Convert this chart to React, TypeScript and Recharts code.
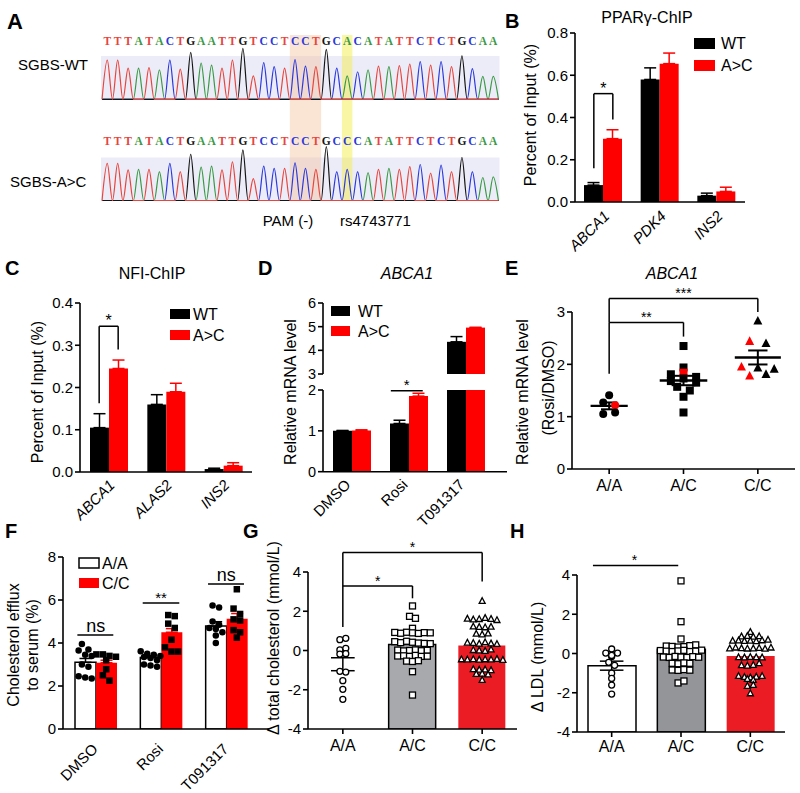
import React from 'react';
import {
  ComposedChart, Bar, Line, Scatter, XAxis, YAxis, ErrorBar,
  ReferenceLine, ReferenceDot, ReferenceArea, Cell,
} from 'recharts';

const FONT = "'Liberation Sans', Arial, Helvetica, sans-serif";
const SERIF = "'Liberation Serif', 'DejaVu Serif', serif";
const BLACK = '#000000';
const RED = '#ff0000';
const DEEP_RED = '#ec1c24';
const GRAY_G = '#a7a9ac';
const GRAY_H = '#939598';
const AXL = { stroke: BLACK, strokeWidth: 1.6 };

// ---------------- Panel A: Sanger traces ----------------
const WT_SEQ = 'TTTATACTGAATTGTCCTCCTGCACATATTCTCTGCAA';
const MUT_SEQ = 'TTTATACTGAATTGTCCTCCTGCCCATATTCTCTGCAA';
const WT_PEAKS = [0.77, 0.77, 0.61, 0.61, 0.62, 0.58, 0.77, 0.59, 0.92, 0.71, 0.67, 0.61, 0.77, 1.0, 0.46, 0.72, 0.64, 0.61, 0.78, 0.65, 0.64, 0.98, 0.61, 0.46, 0.54, 0.58, 0.65, 0.64, 0.66, 0.69, 0.74, 0.67, 0.74, 0.64, 0.85, 0.6, 0.45, 0.45];
const MUT_PEAKS = [0.69, 0.69, 0.57, 0.58, 0.58, 0.54, 0.69, 0.54, 0.86, 0.62, 0.64, 0.57, 0.72, 0.94, 0.41, 0.64, 0.6, 0.6, 0.7, 0.6, 0.58, 1.0, 0.54, 0.58, 0.54, 0.52, 0.58, 0.6, 0.58, 0.63, 0.67, 0.51, 0.66, 0.54, 0.8, 0.54, 0.43, 0.44];
const PAM_BASES = [19, 21];
const SNP_BASE = 24;
const BASE_COLORS: Record<string, string> = { A: '#3a9a44', C: '#2b39dd', G: '#151515', T: '#e8453c' };

// ---------------- Panel B ----------------
const B_GENES = ['ABCA1', 'PDK4', 'INS2'];
const B_WT = [0.08, 0.58, 0.03];
const B_WT_ERR = [0.012, 0.055, 0.012];
const B_AC = [0.3, 0.655, 0.05];
const B_AC_ERR = [0.042, 0.05, 0.02];

// ---------------- Panel C ----------------
const C_GENES = ['ABCA1', 'ALAS2', 'INS2'];
const C_WT = [0.105, 0.16, 0.007];
const C_WT_ERR = [0.033, 0.023, 0.002];
const C_AC = [0.245, 0.19, 0.015];
const C_AC_ERR = [0.02, 0.02, 0.007];

// ---------------- Panel D ----------------
const D_COND = ['DMSO', 'Rosi', 'T091317'];
const D_WT = [1.0, 1.18, 4.36];
const D_WT_ERR = [0.01, 0.08, 0.22];
const D_AC = [1.01, 1.85, 4.96];
const D_AC_ERR = [0.015, 0.07, 0.01];

// ---------------- Panel E ----------------
const E_GROUPS = ['A/A', 'A/C', 'C/C'];
const E_AA = [1.41, 1.27, 1.22, 1.05, 1.08];
const E_AC = [2.35, 1.94, 1.81, 1.84, 1.68, 1.76, 1.73, 1.65, 1.57, 1.5, 1.38, 1.08];
const E_CC = [2.83, 2.44, 2.4, 1.95, 1.93, 1.91, 1.78, 1.81];
const E_AA_RED = [2];
const E_AC_RED = [3];
const E_CC_RED = [1, 3, 6];

// ---------------- Panel F ----------------
const F_COND = ['DMSO', 'Rosi', 'T091317'];
const F_AA = [3.1, 3.32, 4.79];
const F_AA_ERR = [0.18, 0.08, 0.2];
const F_CC = [3.08, 4.5, 5.13];
const F_CC_ERR = [0.12, 0.17, 0.24];
const F_AA_PTS = [
  [3.95, 3.7, 3.65, 3.45, 3.4, 3.0, 2.9, 2.45, 2.4, 2.35],
  [3.62, 3.5, 3.45, 3.4, 3.35, 3.3, 3.2, 3.0, 2.95, 2.9],
  [5.75, 5.65, 5.0, 4.85, 4.7, 4.65, 4.5, 4.35, 4.0],
];
const F_CC_PTS = [
  [3.47, 3.47, 3.4, 3.36, 3.2, 2.78, 2.5, 2.25],
  [5.3, 5.25, 4.9, 4.7, 4.15, 3.8, 3.6, 3.6],
  [6.5, 5.6, 5.35, 5.1, 5.05, 4.6, 4.5, 4.25],
];

// ---------------- Panel G ----------------
const G_GROUPS = ['A/A', 'A/C', 'C/C'];
const G_BAR: (number | null)[] = [null, 0.3, 0.25];
const G_AA_MEAN = -0.7;
const G_AA_SEM = 0.33;
const G_AA_PTS = [0.55, 0.62, 0.03, 0.11, -0.18, -0.16, -1.06, -1.1, -1.54, -1.98, -2.49];
const G_AC_PTS = [2.27, 1.74, 1.64, 1.13, 0.92, 0.88, 0.93, 0.9, 0.87, 0.91, 0.9, 0.45, 0.4, 0.47, 0.42, 0.38, 0.36, 0.35, 0.02, -0.02, 0.0, 0.03, -0.01, 0.01, -0.28, -0.27, -0.3, -0.25, -0.3, -0.29, -0.54, -0.56, -0.52, -1.08, -2.27];
const G_CC_PTS = [2.52, 1.62, 1.58, 1.6, 1.66, 1.61, 1.55, 1.22, 1.2, 1.18, 1.21, 0.85, 0.82, 0.87, 0.4, 0.38, 0.35, 0.42, 0.36, 0.33, 0.02, 0.0, -0.02, 0.05, -0.45, -0.46, -0.44, -0.47, -0.45, -0.46, -0.43, -0.48, -0.95, -0.98, -0.97, -1.0, -1.2, -1.18, -1.22, -1.5];

// ---------------- Panel H ----------------
const H_GROUPS = ['A/A', 'A/C', 'C/C'];
const H_BAR = [-0.62, 0.22, -0.13];
const H_AA_SEM = 0.23;
const H_AA_PTS = [0.23, 0.02, -0.15, -0.1, 0.02, -0.45, -0.6, -1.0, -1.27, -1.61, -2.07];
const H_AC_PTS = [3.7, 1.62, 0.74, 0.38, 0.36, 0.33, 0.35, 0.4, 0.44, 0.15, 0.12, 0.1, 0.13, 0.16, 0.1, 0.12, 0.17, -0.18, -0.2, -0.15, -0.18, -0.2, -0.16, -0.19, -0.5, -0.52, -0.48, -0.5, -0.84, -0.86, -0.82, -0.85, -1.5, -1.4];
const H_CC_PTS = [1.1, 0.87, 0.89, 0.85, 0.88, 0.65, 0.66, 0.64, 0.65, 0.63, 0.67, 0.7, 0.26, 0.3, 0.27, 0.25, 0.26, 0.28, 0.24, 0.3, -0.19, -0.2, -0.18, -0.19, -0.2, -0.6, -0.62, -0.58, -0.5, -1.15, -1.2, -1.22, -1.18, -1.15, -1.3, -1.35, -1.65, -1.6, -2.03];

// ---------------- helpers ----------------
function mean(a: number[]) { return a.reduce((s, v) => s + v, 0) / a.length; }
function sem(a: number[]) {
  const m = mean(a);
  const v = a.reduce((s, x) => s + (x - m) ** 2, 0) / (a.length - 1);
  return Math.sqrt(v / a.length);
}

// beeswarm-like layout: points in the same value row are spread horizontally
function swarm(vals: number[], rowH: number, step: number): number[] {
  const order = vals.map((_, i) => i).sort((a, b) => vals[b] - vals[a]);
  const off = vals.map(() => 0);
  let row: number[] = [];
  let top = 0;
  const flush = () => {
    const r = [...row].sort((a, b) => a - b);
    r.forEach((id, k) => { off[id] = (k - (r.length - 1) / 2) * step; });
  };
  order.forEach((i) => {
    if (row.length && top - vals[i] > rowH) { flush(); row = []; }
    if (!row.length) top = vals[i];
    row.push(i);
  });
  if (row.length) flush();
  return off;
}
function pts(vals: number[], center: number, rowH: number, step: number, red: number[] = []) {
  const off = swarm(vals, rowH, step);
  return vals.map((v, i) => ({ x: center + off[i], y: v, red: red.includes(i) }));
}

type Kind = 'circle' | 'square' | 'triangle';
function marker(kind: Kind, size: number, fill: string, stroke: string, sw: number) {
  return (p: any) => {
    const { cx, cy, payload } = p;
    if (cx == null || cy == null) return <g />;
    const f = payload && payload.red ? RED : fill;
    const s = payload && payload.red ? RED : stroke;
    const h = size / 2;
    if (kind === 'circle') return <circle cx={cx} cy={cy} r={h} fill={f} stroke={s} strokeWidth={sw} />;
    if (kind === 'square') return <rect x={cx - h} y={cy - h} width={size} height={size} fill={f} stroke={s} strokeWidth={sw} />;
    return <polygon points={`${cx},${cy - h * 1.1} ${cx + h},${cy + h * 0.8} ${cx - h},${cy + h * 0.8}`} fill={f} stroke={s} strokeWidth={sw} />;
  };
}

function seg(x1: number, y1: number, x2: number, y2: number, key: string, stroke = BLACK, w = 1.5) {
  return (
    <ReferenceLine key={key} xAxisId="n" segment={[{ x: x1, y: y1 }, { x: x2, y: y2 }]}
      stroke={stroke} strokeWidth={w} ifOverflow="visible" />
  );
}
function bracket(xl: number, xr: number, yl: number, yt: number, yr: number, key: string) {
  return [
    seg(xl, yl, xl, yt, key + 'l'),
    seg(xl, yt, xr, yt, key + 't'),
    seg(xr, yt, xr, yr, key + 'r'),
  ];
}
function txt(x: number, y: number, s: string, key: string, size = 15, dy = 0) {
  return (
    <ReferenceDot key={key} xAxisId="n" x={x} y={y} r={0} ifOverflow="visible"
      shape={(p: any) => (
        <text x={p.cx} y={p.cy + dy} textAnchor="middle" fontSize={size} fontFamily={FONT} fill={BLACK}>{s}</text>
      )} />
  );
}
function meanSem(vals: number[], c: number, key: string, mw = 0.28, cw = 0.13) {
  const m = mean(vals);
  const s = sem(vals);
  return [
    seg(c - mw, m, c + mw, m, key + 'm', BLACK, 2.4),
    seg(c - cw, m + s, c + cw, m + s, key + 'u', BLACK, 2),
    seg(c - cw, m - s, c + cw, m - s, key + 'd', BLACK, 2),
    seg(c, m - s, c, m + s, key + 'v', BLACK, 2),
  ];
}

const RotTick = (props: any) => {
  const { x, y, payload, italic, ox = 5, oy = 14 } = props;
  const ax = x + ox;
  const ay = y + oy;
  return (
    <text x={ax} y={ay} transform={`rotate(-45 ${ax} ${ay})`} textAnchor="end" fontSize={15}
      fontFamily={FONT} fontStyle={italic ? 'italic' : 'normal'} fill={BLACK}>{payload.value}</text>
  );
};

function yAxisEl(domain: [number, number], ticks: number[], fmt?: (v: number) => string, size = 15) {
  return (
    <YAxis type="number" domain={domain} ticks={ticks} interval={0} allowDataOverflow width={50}
      axisLine={AXL} tickLine={AXL} tickSize={5} tickMargin={2}
      tick={{ fill: BLACK, fontSize: size, fontFamily: FONT }} tickFormatter={fmt} />
  );
}
const fmt1 = (v: number) => v.toFixed(1);

type Fr = { px: number; py: number; pw: number; ph: number; L?: number; T?: number; R?: number; B?: number; xVis?: boolean; yVis?: boolean };
function Chart({ f, data, children }: { f: Fr; data?: any[]; children: React.ReactNode }) {
  const L = f.L ?? 50, T = f.T ?? 45, R = f.R ?? 15, B = f.B ?? 80;
  const xVis = f.xVis ?? true, yVis = f.yVis ?? true;
  return (
    <div style={{ position: 'absolute', left: f.px - L, top: f.py - T }}>
      <ComposedChart width={f.pw + L + R} height={f.ph + T + B} data={data} barGap={0}
        margin={{ top: T, right: R, left: yVis ? 0 : L, bottom: xVis ? 0 : B }}>
        {children}
      </ComposedChart>
    </div>
  );
}

// ---------------- derived tables ----------------
function buildTrace() {
  const rows: any[] = [];
  for (let k = 1; k <= WT_SEQ.length * 2 + 1; k++) {
    const x = k / 2;
    const row: any = { x };
    const i = Number.isInteger(x) ? x - 1 : -1;
    'ACGT'.split('').forEach((b) => {
      row['w' + b] = i >= 0 && WT_SEQ[i] === b ? WT_PEAKS[i] : 0;
      row['m' + b] = i >= 0 && MUT_SEQ[i] === b ? MUT_PEAKS[i] : 0;
    });
    rows.push(row);
  }
  return rows;
}
const traceRows = buildTrace();
const WT_LETTER_Y = 1.143;
const MUT_LETTER_Y = 1.106;
const wtLetters = WT_SEQ.split('').map((b, i) => ({ x: i + 1, y: WT_LETTER_Y, b }));
const mutLetters = MUT_SEQ.split('').map((b, i) => ({ x: i + 1, y: MUT_LETTER_Y, b }));
const letterShape = (p: any) => {
  const { cx, cy, payload } = p;
  return (
    <text x={cx} y={cy} textAnchor="middle" dominantBaseline="central" fontSize={11.5}
      fontWeight="bold" fontFamily={SERIF} fill={BASE_COLORS[payload.b]}>{payload.b}</text>
  );
};

const bData = B_GENES.map((g, i) => ({ name: g, wt: B_WT[i], wtE: [0, B_WT_ERR[i]], ac: B_AC[i], acE: [0, B_AC_ERR[i]] }));
const cData = C_GENES.map((g, i) => ({ name: g, wt: C_WT[i], wtE: [0, C_WT_ERR[i]], ac: C_AC[i], acE: [0, C_AC_ERR[i]] }));
const dUpper = D_COND.map((g, i) => ({
  name: g,
  wt: D_WT[i] >= 3 ? D_WT[i] : null, wtE: D_WT[i] >= 3 ? [0, D_WT_ERR[i]] : null,
  ac: D_AC[i] >= 3 ? D_AC[i] : null, acE: D_AC[i] >= 3 ? [0, D_AC_ERR[i]] : null,
}));
const dLower = D_COND.map((g, i) => ({
  name: g,
  wt: Math.min(D_WT[i], 2), wtE: D_WT[i] > 2 ? null : [0, D_WT_ERR[i]],
  ac: Math.min(D_AC[i], 2), acE: D_AC[i] > 2 ? null : [0, D_AC_ERR[i]],
}));
const fData = F_COND.map((g, i) => ({ name: g, aa: F_AA[i], aaE: [0, F_AA_ERR[i]], cc: F_CC[i], ccE: [0, F_CC_ERR[i]] }));
const G_MIN = -4;
const gData = G_GROUPS.map((g, i) => ({ name: g, bar: G_BAR[i] == null ? null : [G_MIN, G_BAR[i]] }));
const hData = H_GROUPS.map((g, i) => ({ name: g, bar: [G_MIN, H_BAR[i]] }));

const BAR_BC = 19;
const bOff = (BAR_BC / 2) / (170 / 3);
const cOff = (BAR_BC / 2) / (172 / 3);
const F_BAR = 21;
const fOff = (F_BAR / 2) / (196 / 3);

const ePts = [
  pts(E_AA, 0.5, 0.09, 0.16, E_AA_RED),
  pts(E_AC, 1.5, 0.09, 0.17, E_AC_RED),
  pts(E_CC, 2.5, 0.09, 0.22, E_CC_RED),
];
const fAAPts = F_AA_PTS.flatMap((v, i) => pts(v, i + 0.5 - fOff, 0.25, 0.1));
const fCCPts = F_CC_PTS.flatMap((v, i) => pts(v, i + 0.5 + fOff, 0.25, 0.1));
const gPts = [pts(G_AA_PTS, 0.5, 0.15, 0.085), pts(G_AC_PTS, 1.5, 0.15, 0.085), pts(G_CC_PTS, 2.5, 0.15, 0.085)];
const hPts = [pts(H_AA_PTS, 0.5, 0.15, 0.085), pts(H_AC_PTS, 1.5, 0.15, 0.085), pts(H_CC_PTS, 2.5, 0.15, 0.085)];

const catX = (tick: any, pad = 0, vis = true) => (
  <XAxis xAxisId="c" dataKey="name" height={80} interval={0} hide={!vis} padding={{ left: 0, right: pad }}
    axisLine={AXL} tickLine={false} tickSize={0} tickMargin={0} tick={tick} />
);
const numX = (pad = 0) => (
  <XAxis xAxisId="n" type="number" dataKey="x" domain={[0, 3]} hide allowDataOverflow padding={{ left: 0, right: pad }} />
);

function Overlay() {
  const t = { fontFamily: FONT, fill: BLACK } as any;
  const letter = (s: string, x: number, y: number, size = 20) => (
    <text key={s} x={x} y={y} fontSize={size} fontWeight="bold" {...t}>{s}</text>
  );
  const vlabel = (s: string, x: number, y: number, key: string) => (
    <text key={key} transform={`translate(${x},${y}) rotate(-90)`} textAnchor="middle" dominantBaseline="central" fontSize={16} {...t}>{s}</text>
  );
  const leg = (x: number, y: number, w: number, h: number, fill: string, label: string, tx: number, key: string, stroke = 'none', size = 16) => (
    <g key={key}>
      <rect x={x} y={y} width={w} height={h} fill={fill} stroke={stroke} strokeWidth={1.5} />
      <text x={tx} y={y + h / 2} dominantBaseline="central" fontSize={size} {...t}>{label}</text>
    </g>
  );
  return (
    <svg width={800} height={793} style={{ position: 'absolute', left: 0, top: 0, pointerEvents: 'none' }}>
      {letter('A', 7, 29, 22)}
      <text x={18} y={64} fontSize={15} dominantBaseline="central" {...t}>SGBS-WT</text>
      <text x={10} y={181} fontSize={15} dominantBaseline="central" {...t}>{'SGBS-A>C'}</text>
      <text x={288} y={220} fontSize={15} textAnchor="middle" dominantBaseline="central" {...t}>PAM (-)</text>
      <text x={340} y={220} fontSize={15} dominantBaseline="central" {...t}>rs4743771</text>

      {letter('B', 505, 28)}
      <text x={647} y={17} fontSize={16} textAnchor="middle" dominantBaseline="central" {...t}>PPARγ-ChIP</text>
      {vlabel('Percent of Input (%)', 530, 115, 'bl')}
      {leg(694, 38, 21, 11, BLACK, 'WT', 721, 'bl1')}
      {leg(694, 60, 21, 11, RED, 'A>C', 721, 'bl2')}

      {letter('C', 5, 275)}
      <text x={152} y={273} fontSize={16} textAnchor="middle" dominantBaseline="central" {...t}>NFI-ChIP</text>
      {vlabel('Percent of Input (%)', 37, 392, 'cl')}
      {leg(170, 309, 20, 10, BLACK, 'WT', 193, 'cl1')}
      {leg(170, 330, 20, 10, RED, 'A>C', 193, 'cl2')}

      {letter('D', 258, 275)}
      <text x={407} y={273} fontSize={16} fontStyle="italic" textAnchor="middle" dominantBaseline="central" {...t}>ABCA1</text>
      {vlabel('Relative mRNA level', 290, 392, 'dl')}
      {leg(331, 306, 19, 10, BLACK, 'WT', 358, 'dl1')}
      {leg(331, 326, 19, 10, RED, 'A>C', 358, 'dl2')}

      {letter('E', 505, 275)}
      <text x={672} y={273} fontSize={16} fontStyle="italic" textAnchor="middle" dominantBaseline="central" {...t}>ABCA1</text>
      {vlabel('Relative mRNA level', 522, 392, 'el1')}
      {vlabel('(Rosi/DMSO)', 548, 388, 'el2')}

      {letter('F', 5, 538)}
      {vlabel('Cholesterol efflux', 13, 645, 'fl1')}
      {vlabel('to serum (%)', 32, 645, 'fl2')}
      {leg(79, 558, 20, 10, '#ffffff', 'A/A', 102, 'fl3', BLACK)}
      {leg(79, 578, 20, 10, RED, 'C/C', 102, 'fl4')}

      {letter('G', 243, 538)}
      {vlabel('Δ total cholesterol (mmol/L)', 273, 638, 'gl')}

      {letter('H', 510, 538)}
      {vlabel('Δ LDL (mmol/L)', 537, 657, 'hl')}
    </svg>
  );
}

export default function App() {
  const gBarCells = [
    <Cell key="g0" fill="none" stroke="none" />,
    <Cell key="g1" fill={GRAY_G} stroke={BLACK} strokeWidth={1.5} />,
    <Cell key="g2" fill={DEEP_RED} stroke="none" />,
  ];
  const hBarCells = [
    <Cell key="h0" fill="#ffffff" stroke={BLACK} strokeWidth={1.5} />,
    <Cell key="h1" fill={GRAY_H} stroke={BLACK} strokeWidth={1.5} />,
    <Cell key="h2" fill={DEEP_RED} stroke="none" />,
  ];
  const openSym = (k: Kind) => marker(k, 6, '#ffffff', BLACK, 1.3);
  const pad = { L: 10, T: 10, R: 10, B: 10, xVis: false, yVis: false };

  return (
    <div style={{ position: 'absolute', left: 0, top: 0, width: 800, height: 793, background: '#ffffff', overflow: 'hidden' }}>
      {/* ---------- A ---------- */}
      <Chart f={{ px: 101, py: 35, pw: 398.5, ph: 166, ...pad }} data={traceRows}>
        <XAxis xAxisId="n" type="number" dataKey="x" domain={[0.4, 38.6]} hide allowDataOverflow />
        <YAxis yAxisId="w" type="number" domain={[-1.994, 1.261]} hide allowDataOverflow />
        <YAxis yAxisId="m" type="number" domain={[-0.0056, 3.069]} hide allowDataOverflow />
        <ReferenceArea xAxisId="n" yAxisId="w" x1={0.4} x2={38.6} y1={0} y2={0.85} fill="#ececf8" fillOpacity={1} stroke="none" ifOverflow="visible" />
        <ReferenceArea xAxisId="n" yAxisId="m" x1={0.4} x2={38.6} y1={0} y2={0.8} fill="#ececf8" fillOpacity={1} stroke="none" ifOverflow="visible" />
        {'ACGT'.split('').map((b) => (
          <Line key={'w' + b} xAxisId="n" yAxisId="w" dataKey={'w' + b} type="monotone" stroke={BASE_COLORS[b]} strokeWidth={1.2} dot={false} isAnimationActive={false} />
        ))}
        {'ACGT'.split('').map((b) => (
          <Line key={'m' + b} xAxisId="n" yAxisId="m" dataKey={'m' + b} type="monotone" stroke={BASE_COLORS[b]} strokeWidth={1.2} dot={false} isAnimationActive={false} />
        ))}
        <ReferenceArea xAxisId="n" yAxisId="w" x1={PAM_BASES[0] - 0.5} x2={PAM_BASES[1] + 0.5} fill="#f5c4a0" fillOpacity={0.45} stroke="none" ifOverflow="visible" />
        <ReferenceArea xAxisId="n" yAxisId="w" x1={SNP_BASE - 0.5} x2={SNP_BASE + 0.5} fill="#f4ee5c" fillOpacity={0.55} stroke="none" ifOverflow="visible" />
        <Scatter xAxisId="n" yAxisId="w" data={wtLetters} dataKey="y" shape={letterShape} isAnimationActive={false} />
        <Scatter xAxisId="n" yAxisId="m" data={mutLetters} dataKey="y" shape={letterShape} isAnimationActive={false} />
      </Chart>

      {/* ---------- B ---------- */}
      <Chart f={{ px: 575, py: 33, pw: 170, ph: 169 }} data={bData}>
        {catX(<RotTick italic ox={7} oy={15} />)}
        {numX()}
        {yAxisEl([0, 0.8], [0, 0.2, 0.4, 0.6, 0.8], fmt1)}
        <Bar xAxisId="c" dataKey="wt" fill={BLACK} barSize={BAR_BC} isAnimationActive={false}>
          <ErrorBar dataKey="wtE" width={6} stroke={BLACK} strokeWidth={1.5} direction="y" />
        </Bar>
        <Bar xAxisId="c" dataKey="ac" fill={RED} barSize={BAR_BC} isAnimationActive={false}>
          <ErrorBar dataKey="acE" width={6} stroke={RED} strokeWidth={1.5} direction="y" />
        </Bar>
        {bracket(0.5 - bOff, 0.5 + bOff, 0.16, 0.513, 0.39, 'bb')}
        {txt(0.5, 0.513, '*', 'bs', 16)}
      </Chart>

      {/* ---------- C ---------- */}
      <Chart f={{ px: 80, py: 303, pw: 172, ph: 169 }} data={cData}>
        {catX(<RotTick italic ox={7} oy={14} />)}
        {numX()}
        {yAxisEl([0, 0.4], [0, 0.1, 0.2, 0.3, 0.4], fmt1)}
        <Bar xAxisId="c" dataKey="wt" fill={BLACK} barSize={BAR_BC} isAnimationActive={false}>
          <ErrorBar dataKey="wtE" width={6} stroke={BLACK} strokeWidth={1.5} direction="y" />
        </Bar>
        <Bar xAxisId="c" dataKey="ac" fill={RED} barSize={BAR_BC} isAnimationActive={false}>
          <ErrorBar dataKey="acE" width={6} stroke={RED} strokeWidth={1.5} direction="y" />
        </Bar>
        {bracket(0.5 - cOff, 0.5 + cOff, 0.163, 0.345, 0.29, 'cb')}
        {txt(0.5, 0.345, '*', 'cs', 16)}
      </Chart>

      {/* ---------- D (broken axis: upper) ---------- */}
      <Chart f={{ px: 323, py: 303, pw: 184, ph: 71, xVis: false }} data={dUpper}>
        {catX(<RotTick />, 13, false)}
        {numX(13)}
        {yAxisEl([3, 6], [3, 4, 5, 6], undefined, 14.5)}
        <Bar xAxisId="c" dataKey="wt" fill={BLACK} barSize={BAR_BC} isAnimationActive={false}>
          <ErrorBar dataKey="wtE" width={6} stroke={BLACK} strokeWidth={1.5} direction="y" />
        </Bar>
        <Bar xAxisId="c" dataKey="ac" fill={RED} barSize={BAR_BC} isAnimationActive={false}>
          <ErrorBar dataKey="acE" width={6} stroke={RED} strokeWidth={1.5} direction="y" />
        </Bar>
      </Chart>
      {/* ---------- D (lower) ---------- */}
      <Chart f={{ px: 323, py: 390, pw: 184, ph: 81.7 }} data={dLower}>
        {catX(<RotTick ox={0} oy={14} />, 13)}
        {numX(13)}
        {yAxisEl([0, 2], [0, 1, 2], undefined, 14.5)}
        <Bar xAxisId="c" dataKey="wt" fill={BLACK} barSize={BAR_BC} isAnimationActive={false}>
          <ErrorBar dataKey="wtE" width={6} stroke={BLACK} strokeWidth={1.5} direction="y" />
        </Bar>
        <Bar xAxisId="c" dataKey="ac" fill={RED} barSize={BAR_BC} isAnimationActive={false}>
          <ErrorBar dataKey="acE" width={6} stroke={RED} strokeWidth={1.5} direction="y" />
        </Bar>
        {seg(1.19, 1.98, 1.75, 1.98, 'ds')}
        {txt(1.47, 2.0, '*', 'dst', 15)}
      </Chart>

      {/* ---------- E ---------- */}
      <Chart f={{ px: 572, py: 312, pw: 223, ph: 157, R: 4 }}>
        <XAxis xAxisId="n" type="number" dataKey="x" domain={[0, 3]} ticks={[0.5, 1.5, 2.5]} interval={0} allowDataOverflow height={80}
          axisLine={AXL} tickLine={AXL} tickSize={5} tickMargin={6}
          tick={{ fill: BLACK, fontSize: 16, fontFamily: FONT }} tickFormatter={(v: number) => E_GROUPS[Math.floor(v)]} />
        {yAxisEl([0, 3], [0, 1, 2, 3])}
        <Scatter xAxisId="n" data={ePts[0]} dataKey="y" shape={marker('circle', 8, BLACK, BLACK, 0)} isAnimationActive={false} />
        <Scatter xAxisId="n" data={ePts[1]} dataKey="y" shape={marker('square', 8, BLACK, BLACK, 0)} isAnimationActive={false} />
        <Scatter xAxisId="n" data={ePts[2]} dataKey="y" shape={marker('triangle', 9, BLACK, BLACK, 0)} isAnimationActive={false} />
        {meanSem(E_AA, 0.5, 'ea', 0.25, 0.11)}
        {meanSem(E_AC, 1.5, 'ec', 0.32, 0.16)}
        {meanSem(E_CC, 2.5, 'ecc', 0.31, 0.13)}
        {bracket(0.5, 1.5, 1.82, 2.8, 2.53, 'eb1')}
        {bracket(0.5, 2.5, 2.8, 3.26, 3.0, 'eb2')}
        {txt(1.0, 2.8, '**', 'es1', 14)}
        {txt(1.5, 3.26, '***', 'es2', 14)}
      </Chart>

      {/* ---------- F ---------- */}
      <Chart f={{ px: 63, py: 557, pw: 206, ph: 172, R: 5 }} data={fData}>
        {catX(<RotTick ox={3} oy={21} />, 10)}
        {numX(10)}
        {yAxisEl([0, 8], [0, 2, 4, 6, 8])}
        <Bar xAxisId="c" dataKey="aa" fill="#ffffff" stroke={BLACK} strokeWidth={1.5} barSize={F_BAR} isAnimationActive={false}>
          <ErrorBar dataKey="aaE" width={6} stroke={BLACK} strokeWidth={1.5} direction="y" />
        </Bar>
        <Bar xAxisId="c" dataKey="cc" fill={RED} barSize={F_BAR} isAnimationActive={false}>
          <ErrorBar dataKey="ccE" width={6} stroke={RED} strokeWidth={1.5} direction="y" />
        </Bar>
        <Scatter xAxisId="n" data={fAAPts} dataKey="y" shape={marker('circle', 6.5, BLACK, BLACK, 0)} isAnimationActive={false} />
        <Scatter xAxisId="n" data={fCCPts} dataKey="y" shape={marker('square', 6.5, BLACK, BLACK, 0)} isAnimationActive={false} />
        {seg(0.22, 4.37, 0.77, 4.37, 'f1')}
        {seg(1.22, 5.86, 1.78, 5.86, 'f2')}
        {seg(2.22, 6.74, 2.77, 6.74, 'f3')}
        {txt(0.5, 4.52, 'ns', 'ft1', 18)}
        {txt(1.5, 5.86, '**', 'ft2', 15)}
        {txt(2.5, 6.89, 'ns', 'ft3', 18)}
      </Chart>

      {/* ---------- G ---------- */}
      <Chart f={{ px: 308, py: 572, pw: 209, ph: 157, R: 5 }} data={gData}>
        <XAxis xAxisId="c" dataKey="name" height={80} interval={0} axisLine={AXL} tickLine={AXL} tickSize={5} tickMargin={6}
          tick={{ fill: BLACK, fontSize: 16, fontFamily: FONT }} />
        {numX()}
        {yAxisEl([-4, 4], [-4, -2, 0, 2, 4])}
        <Bar xAxisId="c" dataKey="bar" barSize={47} isAnimationActive={false}>{gBarCells}</Bar>
        <Scatter xAxisId="n" data={gPts[0]} dataKey="y" shape={openSym('circle')} isAnimationActive={false} />
        <Scatter xAxisId="n" data={gPts[1]} dataKey="y" shape={openSym('square')} isAnimationActive={false} />
        <Scatter xAxisId="n" data={gPts[2]} dataKey="y" shape={openSym('triangle')} isAnimationActive={false} />
        {seg(0.33, G_AA_MEAN + G_AA_SEM, 0.67, G_AA_MEAN + G_AA_SEM, 'ga1')}
        {seg(0.33, G_AA_MEAN - G_AA_SEM, 0.67, G_AA_MEAN - G_AA_SEM, 'ga2')}
        {seg(0.5, G_AA_MEAN - G_AA_SEM, 0.5, G_AA_MEAN + G_AA_SEM, 'ga3')}
        {bracket(0.5, 1.5, 1.2, 3.29, 2.66, 'gb1')}
        {bracket(0.5, 2.5, 3.29, 5.0, 3.51, 'gb2')}
        {txt(1.0, 3.29, '*', 'gs1', 14)}
        {txt(1.5, 5.0, '*', 'gs2', 14)}
      </Chart>

      {/* ---------- H ---------- */}
      <Chart f={{ px: 577, py: 575, pw: 208, ph: 157, R: 5 }} data={hData}>
        <XAxis xAxisId="c" dataKey="name" height={80} interval={0} axisLine={AXL} tickLine={AXL} tickSize={5} tickMargin={4}
          tick={{ fill: BLACK, fontSize: 16, fontFamily: FONT }} />
        {numX()}
        {yAxisEl([-4, 4], [-4, -2, 0, 2, 4])}
        <Bar xAxisId="c" dataKey="bar" barSize={48} isAnimationActive={false}>{hBarCells}</Bar>
        <Scatter xAxisId="n" data={hPts[0]} dataKey="y" shape={openSym('circle')} isAnimationActive={false} />
        <Scatter xAxisId="n" data={hPts[1]} dataKey="y" shape={openSym('square')} isAnimationActive={false} />
        <Scatter xAxisId="n" data={hPts[2]} dataKey="y" shape={openSym('triangle')} isAnimationActive={false} />
        {seg(0.33, H_BAR[0] + H_AA_SEM, 0.67, H_BAR[0] + H_AA_SEM, 'ha1')}
        {seg(0.33, H_BAR[0] - H_AA_SEM, 0.67, H_BAR[0] - H_AA_SEM, 'ha2')}
        {seg(0.5, H_BAR[0] - H_AA_SEM, 0.5, H_BAR[0] + H_AA_SEM, 'ha3')}
        {seg(0.23, 4.48, 1.46, 4.48, 'hs')}
        {txt(0.83, 4.5, '*', 'hst', 14)}
      </Chart>

      <Overlay />
    </div>
  );
}
